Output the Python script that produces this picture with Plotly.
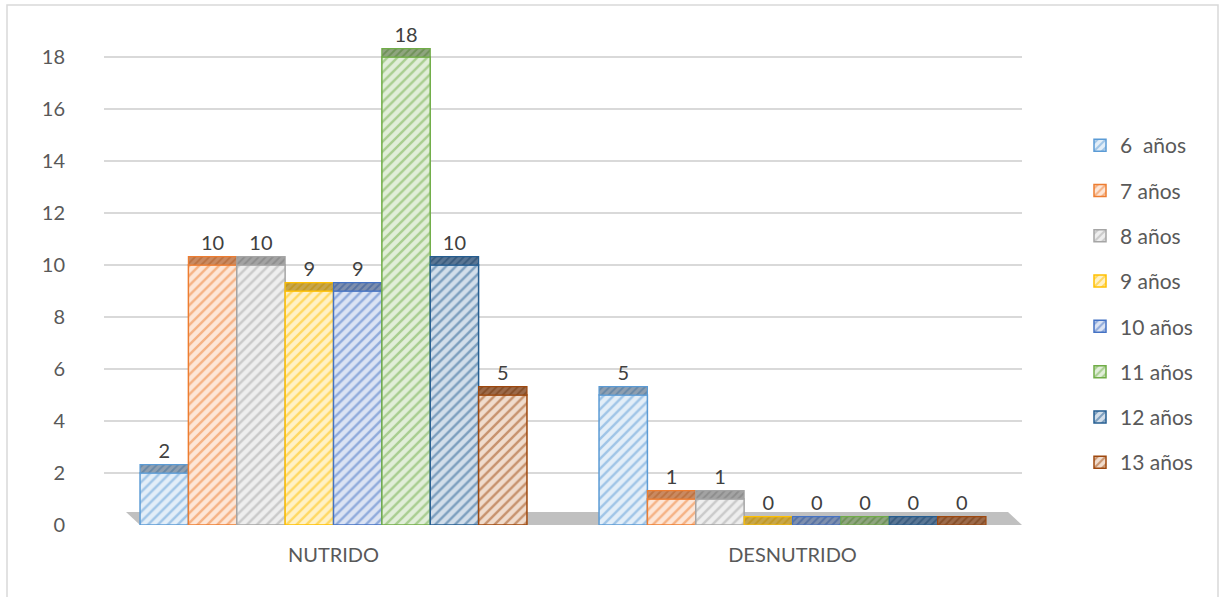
import plotly.graph_objects as go

categories = ["NUTRIDO", "DESNUTRIDO"]
series_names = ["6\u00a0 años", "7 años", "8 años", "9 años", "10 años", "11 años", "12 años", "13 años"]
values_6 = [2, 5]
values_7 = [10, 1]
values_8 = [10, 1]
values_9 = [9, 0]
values_10 = [9, 0]
values_11 = [18, 0]
values_12 = [10, 0]
values_13 = [5, 0]
all_values = [values_6, values_7, values_8, values_9, values_10, values_11, values_12, values_13]
y_ticks = [0, 2, 4, 6, 8, 10, 12, 14, 16, 18]

colors = ["#5B9BD5", "#ED7D31", "#A5A5A5", "#FFC000", "#4472C4", "#70AD47", "#255E91", "#9E480E"]
tints = ["#e3eef8", "#fde6d7", "#eeeeee", "#fff1c6", "#dbe3f3", "#e1eed9", "#d2deea", "#f0dccd"]
tops = ["#8f9fb0", "#c98a62", "#a3a3a3", "#c7a64a", "#7e8fae", "#8fa57f", "#5a7694", "#9c6a4a"]
darks = ["#41719c", "#ae5a21", "#787878", "#bc8c00", "#2f5597", "#507e32", "#1a4168", "#70340a"]

TOP_H = 0.32
FONT = "Lato, 'Open Sans', sans-serif"

fig = go.Figure()
for i, name in enumerate(series_names):
    vals = all_values[i]
    fig.add_trace(go.Bar(
        x=categories, y=vals, name=name,
        offsetgroup=str(i), legendgroup=str(i),
        marker=dict(color=tints[i], line=dict(color=colors[i], width=1.5),
                    pattern=dict(shape="/", fgcolor=colors[i], bgcolor=tints[i],
                                 size=7, solidity=0.35)),
        hoverinfo="skip",
    ))
    fig.add_trace(go.Bar(
        x=categories, y=[TOP_H] * len(vals), base=vals, name=name,
        offsetgroup=str(i), legendgroup=str(i), showlegend=False,
        marker=dict(color=tops[i], line=dict(color=colors[i], width=1.2),
                    pattern=dict(shape="/", fgcolor=darks[i], bgcolor=tops[i],
                                 size=5, solidity=0.4)),
        text=[str(v) for v in vals], textposition="outside",
        textfont=dict(size=20, color="#404040", family=FONT),
        cliponaxis=False, hoverinfo="skip",
    ))

W, H = 1221, 597
L, R, B = 104, 199, 72
Y_MAX = 18.5
UNIT = 26.0
ph = int(round(Y_MAX * UNIT))
T = H - B - ph
pw = W - L - R

def px_x(p):
    return (p - L) / pw

def px_y(p):
    return (H - B - p) / ph

shapes = [
    # floor
    dict(type="path", xref="paper", yref="y", layer="below",
         path=f"M {px_x(140)},0 L {px_x(1022)},0 L {px_x(1008)},0.5 L {px_x(126)},0.5 Z",
         fillcolor="#c0c0c0", line=dict(width=0)),
    # chart border
    dict(type="rect", xref="paper", yref="paper",
         x0=px_x(7), x1=px_x(1218), y0=px_y(640), y1=px_y(5),
         line=dict(color="#d9d9d9", width=1.5), fillcolor="rgba(0,0,0,0)"),
]

fig.update_layout(
    width=W, height=H,
    margin=dict(l=L, r=R, t=T, b=B),
    paper_bgcolor="white", plot_bgcolor="white",
    barmode="group", bargap=0.157, bargroupgap=0,
    font=dict(family=FONT, color="#595959"),
    showlegend=True,
    legend=dict(x=px_x(1080), y=px_y(125), xanchor="left", yanchor="top",
                font=dict(size=21, color="#595959", family=FONT),
                tracegroupgap=15, itemwidth=30, bgcolor="rgba(0,0,0,0)"),
    shapes=shapes,
    xaxis=dict(showgrid=False, showline=False, zeroline=False, ticks="",
               tickfont=dict(size=20, color="#595959", family=FONT),
               ticklabelstandoff=16),
    yaxis=dict(range=[0, Y_MAX], tickvals=y_ticks, showgrid=True, gridcolor="#d9d9d9",
               gridwidth=1.5, zeroline=False, showline=False, ticks="",
               tickfont=dict(size=20, color="#595959", family=FONT),
               ticklabelstandoff=38),
)

fig.write_html("out.html")
